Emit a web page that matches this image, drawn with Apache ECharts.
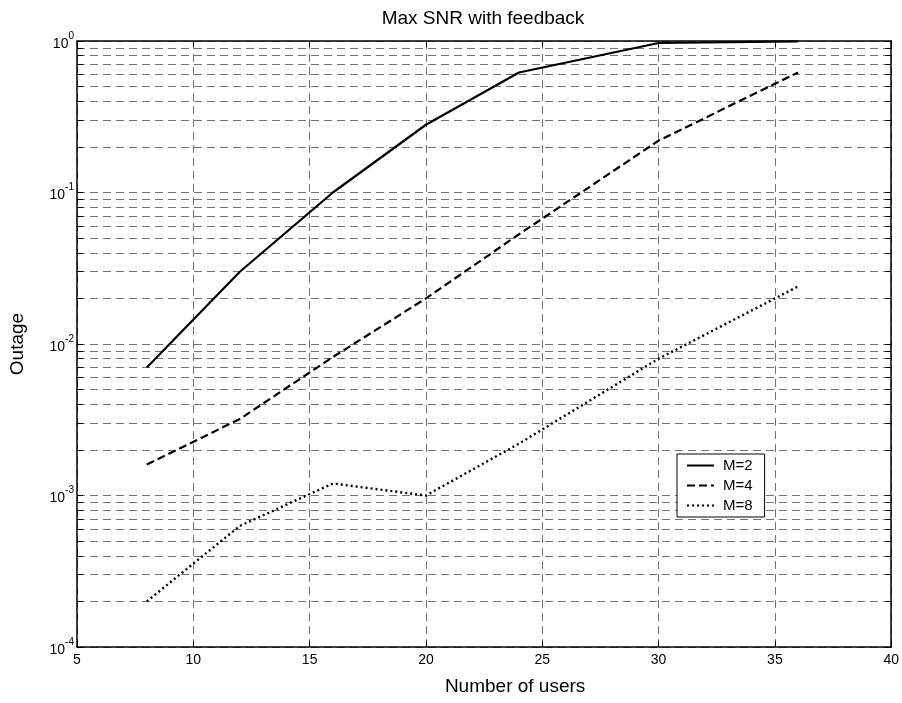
<!DOCTYPE html>
<html>
<head>
<meta charset="utf-8">
<script src="https://cdn.jsdelivr.net/npm/echarts@6/dist/echarts.min.js"></script>
<style>html,body{margin:0;padding:0;background:#fff;}#chart{width:902px;height:703px;}</style>
</head>
<body>
<div id="chart"></div>
<script>
const users = [8, 12, 16, 20, 24, 30, 36];
const outageM2 = [0.007, 0.03, 0.1, 0.28, 0.62, 0.97, 0.995];
const outageM4 = [0.0016, 0.0032, 0.0082, 0.02, 0.053, 0.22, 0.62];
const outageM8 = [0.0002, 0.00063, 0.0012, 0.001, 0.0022, 0.008, 0.024];
const seriesNames = ['M=2', 'M=4', 'M=8'];
const decades = [1e-4, 1e-3, 1e-2, 1e-1];
const minorMultipliers = [2, 3, 4, 5, 6, 7, 8, 9];

const minorValues = [];
decades.forEach(d => minorMultipliers.forEach(m => minorValues.push(+(d * m).toPrecision(3))));

const FONT = 'Liberation Sans, Arial, Helvetica, sans-serif';
const gridStyle = { color: '#727272', width: 1, type: [8, 5] };

const pairs = vals => users.map((u, i) => [u, vals[i]]);

const minorGrid = minorValues.map(v => [{ coord: [5, v] }, { coord: [40, v] }]);
const minorTicks = [];
minorValues.forEach(v => {
  minorTicks.push([{ coord: [5, v] }, { coord: [5.25, v] }]);
  minorTicks.push([{ coord: [39.75, v] }, { coord: [40, v] }]);
});

const chart = echarts.init(document.getElementById('chart'), null, { renderer: 'canvas' });
chart.setOption({
  backgroundColor: '#fff',
  animation: false,
  title: {
    text: 'Max SNR with feedback',
    left: 483, top: 9, padding: 0, textAlign: 'center',
    textStyle: { fontFamily: FONT, fontSize: 19, fontWeight: 'normal', color: '#000' }
  },
  grid: { left: 75, right: 10, top: 41, bottom: 56, containLabel: false },
  legend: {
    orient: 'vertical', left: 677, top: 454,
    data: seriesNames,
    itemWidth: 27, itemHeight: 14, itemGap: 5,
    padding: [4, 12, 4, 9],
    borderColor: '#000', borderWidth: 1, backgroundColor: '#fff',
    itemStyle: { opacity: 0, borderWidth: 0 },
    textStyle: { fontFamily: FONT, fontSize: 15, color: '#000', padding: [0, 0, 0, 4] }
  },
  xAxis: [{
    type: 'value', min: 5, max: 40, interval: 5, position: 'bottom',
    name: 'Number of users', nameLocation: 'middle', nameGap: 30,
    nameTextStyle: { fontFamily: FONT, fontSize: 19, color: '#000', padding: [0, 0, 0, 62] },
    axisLine: { show: true, onZero: false, lineStyle: { color: '#000', width: 1.5 } },
    axisTick: { show: true, inside: true, length: 6, lineStyle: { color: '#000', width: 1 } },
    axisLabel: { fontFamily: FONT, fontSize: 14, color: '#000', margin: 6, showMinLabel: true, showMaxLabel: true },
    splitLine: { show: true, lineStyle: gridStyle }
  }, {
    type: 'value', min: 5, max: 40, interval: 5, position: 'top',
    axisLine: { show: true, onZero: false, lineStyle: { color: '#000', width: 1.5 } },
    axisTick: { show: true, inside: true, length: 6, lineStyle: { color: '#000', width: 1 } },
    axisLabel: { show: false },
    splitLine: { show: false }
  }],
  yAxis: [{
    type: 'log', logBase: 10, min: 1e-4, max: 1, position: 'left',
    name: 'Outage', nameLocation: 'middle', nameGap: 50, nameRotate: 90,
    nameTextStyle: { fontFamily: FONT, fontSize: 19, color: '#000' },
    axisLine: { show: true, onZero: false, lineStyle: { color: '#000', width: 1.5 } },
    axisTick: { show: true, inside: true, length: 6, lineStyle: { color: '#000', width: 1 } },
    axisLabel: {
      margin: 3, fontFamily: FONT, color: '#000',
      formatter: v => '{b|10}{s|' + Math.round(Math.log10(v)) + '}',
      rich: {
        b: { fontFamily: FONT, fontSize: 14, color: '#000', verticalAlign: 'bottom', lineHeight: 20 },
        s: { fontFamily: FONT, fontSize: 10, color: '#000', verticalAlign: 'top', lineHeight: 12 }
      }
    },
    splitLine: { show: true, lineStyle: gridStyle }
  }, {
    type: 'log', logBase: 10, min: 1e-4, max: 1, position: 'right',
    axisLine: { show: true, onZero: false, lineStyle: { color: '#000', width: 1.5 } },
    axisTick: { show: true, inside: true, length: 6, lineStyle: { color: '#000', width: 1 } },
    axisLabel: { show: false },
    splitLine: { show: false }
  }],
  series: [{
    name: seriesNames[0], type: 'line', data: pairs(outageM2), symbol: 'none',
    xAxisIndex: 0, yAxisIndex: 0, z: 5,
    lineStyle: { color: '#000', width: 2.2, type: 'solid' }, itemStyle: { color: '#000' },
    markLine: {
      silent: true, symbol: 'none', label: { show: false }, z: 1,
      lineStyle: gridStyle, data: minorGrid, animation: false
    }
  }, {
    name: seriesNames[1], type: 'line', data: pairs(outageM4), symbol: 'none',
    xAxisIndex: 0, yAxisIndex: 0, z: 5,
    lineStyle: { color: '#000', width: 2.2, type: [8, 4] }, itemStyle: { color: '#000' },
    markLine: {
      silent: true, symbol: 'none', label: { show: false },
      lineStyle: { color: '#000', width: 1, type: 'solid' }, data: minorTicks, animation: false
    }
  }, {
    name: seriesNames[2], type: 'line', data: pairs(outageM8), symbol: 'none',
    xAxisIndex: 0, yAxisIndex: 0, z: 5,
    lineStyle: { color: '#000', width: 2.4, type: [2, 3] }, itemStyle: { color: '#000' }
  }]
});
</script>
</body>
</html>
